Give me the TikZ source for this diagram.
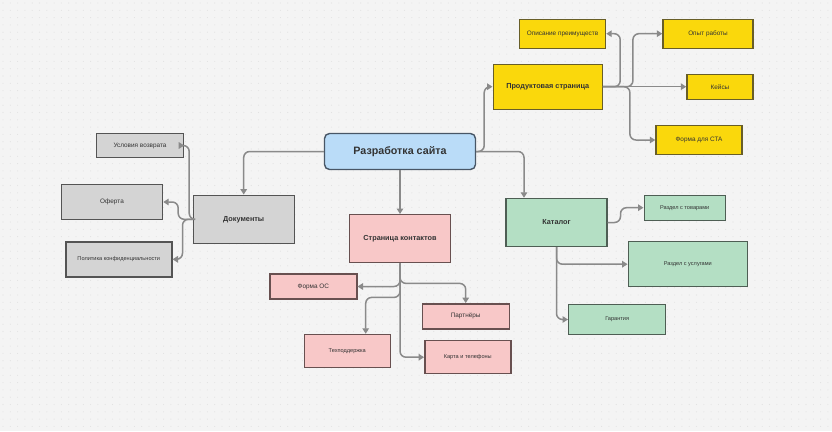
\documentclass[tikz,border=0pt]{standalone}
\usepackage{fontspec}
\setmainfont{Liberation Sans}
\usetikzlibrary{arrows.meta}
\definecolor{bgcol}{RGB}{244,244,244}
\definecolor{dotcol}{RGB}{226,226,226}
\definecolor{txtcol}{RGB}{51,51,51}
\definecolor{linkcol}{RGB}{138,138,138}
\definecolor{bluefill}{RGB}{186,220,248}
\definecolor{blueline}{RGB}{72,86,102}
\definecolor{yelfill}{RGB}{250,216,12}
\definecolor{yelline}{RGB}{104,94,40}
\definecolor{grayfill}{RGB}{212,212,212}
\definecolor{grayline}{RGB}{84,84,84}
\definecolor{pinkfill}{RGB}{248,200,200}
\definecolor{pinkline}{RGB}{104,80,80}
\definecolor{greenfill}{RGB}{180,223,196}
\definecolor{greenline}{RGB}{78,94,84}
\tikzset{
  box/.style = {draw, line width=1.4pt, inner sep=0pt, align=center, text=txtcol},
  head/.style = {font=\bfseries\fontsize{7.3}{9}\selectfont},
  leaf/.style = {font=\fontsize{6.4}{8}\selectfont},
  tiny/.style = {font=\fontsize{5.6}{7}\selectfont},
  yelbox/.style = {box, fill=yelfill, draw=yelline},
  graybox/.style = {box, fill=grayfill, draw=grayline},
  pinkbox/.style = {box, fill=pinkfill, draw=pinkline},
  greenbox/.style = {box, fill=greenfill, draw=greenline},
  link/.style = {draw=linkcol, line width=1.5pt, rounded corners=6pt,
    -{Triangle[length=5.5pt,width=6.5pt]}}
}
\begin{document}
\begin{tikzpicture}[x = 1pt, y = -1pt]
  % background with dot grid
  \fill[bgcol] (0, 0) rectangle (832, 431);
  \useasboundingbox (0, 0) rectangle (832, 431);
  \foreach \i in {0,...,113}
    \foreach \j in {0,...,58}
      \fill[dotcol] (\i*7.3 + 3, \j*7.3 + 3) circle (0.55);
  % root
  \node[box, fill=bluefill, draw=blueline, rounded corners=5pt,
    minimum width=151pt, minimum height=36pt,
    font=\bfseries\fontsize{10.7}{12}\selectfont] (site) at (400, 151.5) {Разработка сайта};
  % product page
  \node[yelbox, head, minimum width=109pt, minimum height=45pt] (prod) at (547.7, 86.7) {Продуктовая страница};
  \node[yelbox, leaf, minimum width=86pt, minimum height=29pt] (adv) at (562.5, 33.7) {Описание преимуществ};
  \node[yelbox, leaf, minimum width=90pt, minimum height=29pt] (exper) at (708, 33.7) {Опыт работы};
  \node[yelbox, leaf, minimum width=66pt, minimum height=25pt] (cases) at (720, 86.7) {Кейсы};
  \node[yelbox, leaf, minimum width=86pt, minimum height=29pt] (cta) at (699, 140) {Форма для CTA};
  % documents
  \node[graybox, head, minimum width=101pt, minimum height=48pt] (docs) at (243.7, 219.3) {Документы};
  \node[graybox, leaf, minimum width=87pt, minimum height=24.5pt] (refund) at (140, 145.5) {Условия возврата};
  \node[graybox, leaf, minimum width=101pt, minimum height=35pt] (offer) at (112, 202) {Оферта};
  \node[graybox, tiny, minimum width=106pt, minimum height=35pt] (policy) at (118.8, 259.3) {Политика конфиденциальности};
  % contacts
  \node[pinkbox, head, minimum width=101pt, minimum height=48pt] (cont) at (400, 238.7) {Страница контактов};
  \node[pinkbox, leaf, minimum width=87pt, minimum height=25pt] (form) at (313.3, 286.5) {Форма ОС};
  \node[pinkbox, leaf, minimum width=87pt, minimum height=25pt] (partn) at (465.7, 316.3) {Партнёры};
  \node[pinkbox, tiny, minimum width=86pt, minimum height=33pt] (helpdesk) at (347.3, 351) {Техподдержка};
  \node[pinkbox, tiny, minimum width=86pt, minimum height=33pt] (maps) at (467.8, 357.2) {Карта и телефоны};
  % catalog
  \node[greenbox, head, minimum width=101pt, minimum height=48pt] (cat) at (556.5, 222.5) {Каталог};
  \node[greenbox, tiny, minimum width=81pt, minimum height=25pt] (goods) at (684.7, 207.7) {Раздел с товарами};
  \node[greenbox, tiny, minimum width=119pt, minimum height=45pt] (serv) at (687.8, 264.2) {Раздел с услугами};
  \node[greenbox, tiny, minimum width=97pt, minimum height=30pt] (warr) at (617.2, 319.5) {Гарантия};
  % links from the root
  \draw[link] (site.west) -| (docs.north);
  \draw[link] (site.east) -- ++(8, 0) |- (prod.west);
  \draw[link] (site.east) -| ([xshift=-32.5pt]cat.north);
  \draw[link] (site.south) -- (cont.north);
  % links of the product page
  \draw[link] (prod.east) -| ([xshift=14pt]adv.east) -- (adv.east);
  \draw[link] (prod.east) -- ++(30, 0) |- (exper.west);
  \draw[link] (prod.east) -- (cases.west);
  \draw[link] (prod.east) -- ++(27, 0) |- (cta.west);
  % links of the documents
  \draw[link] (docs.west) -| ([xshift=5pt]refund.east) -- (refund.east);
  \draw[link] (docs.west) -| ([xshift=15pt]offer.east) -- (offer.east);
  \draw[link] (docs.west) -| ([xshift=10pt]policy.east) -- (policy.east);
  % links of the contacts
  \draw[link] (cont.south) |- (form.east);
  \draw[link] (cont.south) -- ++(0, 20) -| (partn.north);
  \draw[link] (cont.south) -- ++(0, 34) -| ([xshift=18.4pt]helpdesk.north);
  \draw[link] (cont.south) |- (maps.west);
  % links of the catalog
  \draw[link] (cat.east) -| ([xshift=-23pt]goods.west) -- (goods.west);
  \draw[link] (cat.south) |- (serv.west);
  \draw[link] (cat.south) |- (warr.west);
\end{tikzpicture}
\end{document}
